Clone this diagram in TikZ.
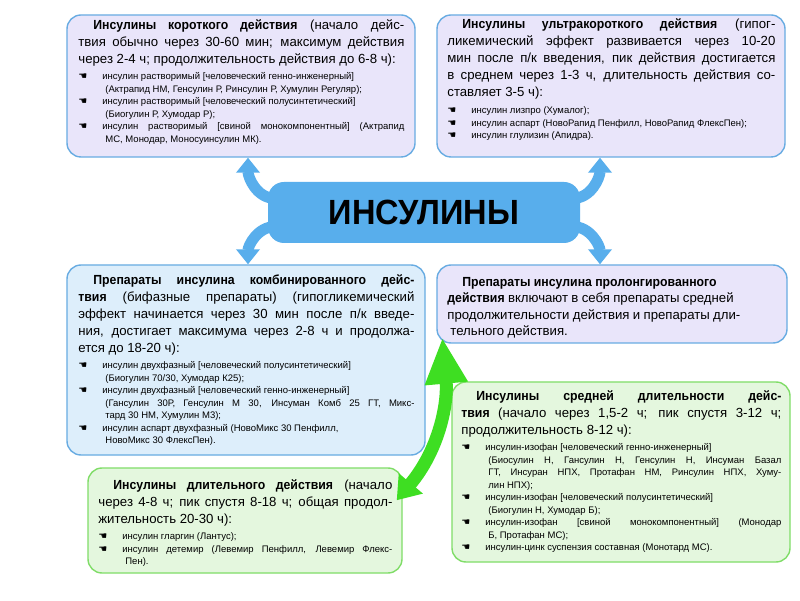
\documentclass[tikz,border=0pt]{standalone}
\usepackage{fontspec}
\setmainfont{Liberation Sans}[BoldFeatures={FakeStretch=0.93}]
\newfontfamily\symfont{DejaVu Sans}
\usetikzlibrary{arrows.meta}

\definecolor{lilac}{RGB}{233,229,250}
\definecolor{skyfill}{RGB}{221,238,251}
\definecolor{mint}{RGB}{228,247,222}
\definecolor{skyline}{RGB}{104,172,226}
\definecolor{mintline}{RGB}{128,221,104}
\definecolor{bigblue}{RGB}{88,174,236}
\definecolor{biggreen}{RGB}{62,222,34}

\tolerance=9999
\hbadness=10000
\newcommand{\hd}{\fontsize{13.2}{17}\selectfont}
\newcommand{\sm}{\fontsize{9.5}{12.5}\selectfont}
\newcommand{\ind}{\noindent\hspace*{15pt}}
\newcommand{\itm}[1]{\par\hangindent=27pt\hangafter=1\noindent\makebox[24pt][l]{\symfont\fontsize{10}{10}\selectfont ☚}#1}

\begin{document}
\begin{tikzpicture}[style=thick,x=1pt,y=1pt]
\newcommand{\bline}{1.4pt}
\tikzstyle{panel}=[draw=skyline,line width=\bline,rounded corners=14pt,inner sep=0pt]
\tikzstyle{txt}=[anchor=north west,inner sep=0pt,align=justify]
\tikzstyle{bluearr}=[draw=bigblue,line width=11pt,-{Triangle[width=23pt,length=15pt]}]
\tikzstyle{greenarr}=[draw=biggreen,line width=13pt,{Triangle[width=30pt,length=22pt]}-{Triangle[width=40pt,length=46pt]}]
\useasboundingbox (0,0) rectangle (800,600);
\fill[white] (0,0) rectangle (800,600);

% boxes
\node[panel,fill=lilac,minimum width=348pt,minimum height=142pt] (short) at (241,514) {};
\node[panel,fill=lilac,minimum width=348pt,minimum height=142pt] (ultra) at (611,514) {};
\node[panel,fill=skyfill,minimum width=358pt,minimum height=190pt] (comb) at (246,240) {};
\node[panel,fill=lilac,minimum width=350pt,minimum height=78pt] (prol) at (612,296) {};
\node[panel,fill=mint,draw=mintline,minimum width=338pt,minimum height=180pt] (mid) at (621,128) {};
\node[panel,fill=mint,draw=mintline,minimum width=314pt,minimum height=105pt] (long) at (245,79.5) {};
\node[fill=bigblue,rounded corners=16pt,minimum width=312pt,minimum height=61pt,
  font=\fontsize{35}{35}\selectfont\bfseries] (ins) at (424,387.5) {ИНСУЛИНЫ};

% texts
\node[txt,text width=326pt] (short_txt) at (78,581) {\hd\ind\textbf{Инсулины короткого действия} (начало дейс-\linebreak
твия обычно через 30-60 мин; максимум действия\linebreak
через 2-4 ч; продолжительность действия до 6-8 ч):\par\vspace{4pt}\sm
\itm{инсулин растворимый [человеческий генно-инженерный]\newline (Актрапид НМ, Генсулин Р, Ринсулин Р, Хумулин Регуляр);}
\itm{инсулин растворимый [человеческий полусинтетический]\newline (Биогулин Р, Хумодар Р);}
\itm{инсулин растворимый [свиной монокомпонентный] (Актрапид\linebreak МС, Монодар, Моносуинсулин МК).}\par};

\node[txt,text width=328pt] (ultra_txt) at (447,582) {\hd\ind\textbf{Инсулины ультракороткого действия} (гипог-\linebreak
ликемический эффект развивается через 10-20\linebreak
мин после п/к введения, пик действия достигается\linebreak
в среднем через 1-3 ч, длительность действия со-\linebreak
ставляет 3-5 ч):\par\vspace{5pt}\sm
\itm{инсулин лизпро (Хумалог);}
\itm{инсулин аспарт (НовоРапид Пенфилл, НовоРапид ФлексПен);}
\itm{инсулин глулизин (Апидра).}\par};

\node[txt,text width=336pt] (comb_txt) at (78,326) {\hd\ind\textbf{Препараты инсулина комбинированного дейс-}\linebreak
\textbf{твия} (бифазные препараты) (гипогликемический\linebreak
эффект начинается через 30 мин после п/к введе-\linebreak
ния, достигает максимума через 2-8 ч и продолжа-\linebreak
ется до 18-20 ч):\par\vspace{4pt}\sm
\itm{инсулин двухфазный [человеческий полусинтетический]\newline (Биогулин 70/30, Хумодар К25);}
\itm{инсулин двухфазный [человеческий генно-инженерный]\newline (Гансулин 30Р, Генсулин М 30, Инсуман Комб 25 ГТ, Микс-\linebreak тард 30 НМ, Хумулин М3);}
\itm{инсулин аспарт двухфазный (НовоМикс 30 Пенфилл,\newline НовоМикс 30 ФлексПен).}\par};

\node[txt,text width=330pt,align=left] (prol_txt) at (447,323) {\fontsize{13.2}{16.5}\selectfont\ind\textbf{Препараты инсулина пролонгированного}\newline
\textbf{действия} включают в себя препараты средней\newline
продолжительности действия и препараты дли-\newline
\hspace*{3pt}тельного действия.\par};

\node[txt,text width=320pt] (mid_txt) at (461,210) {\hd\ind\textbf{Инсулины средней длительности дейс-}\linebreak
\textbf{твия} (начало через 1,5-2 ч; пик спустя 3-12 ч;\linebreak
продолжительность 8-12 ч):\par\vspace{4pt}\sm
\itm{инсулин-изофан [человеческий генно-инженерный]\newline (Биосулин Н, Гансулин Н, Генсулин Н, Инсуман Базал\linebreak ГТ, Инсуран НПХ, Протафан НМ, Ринсулин НПХ, Хуму-\linebreak лин НПХ);}
\itm{инсулин-изофан [человеческий полусинтетический]\newline (Биогулин Н, Хумодар Б);}
\itm{инсулин-изофан [свиной монокомпонентный] (Монодар\linebreak Б, Протафан МС);}
\itm{инсулин-цинк суспензия составная (Монотард МС).}\par};

\node[txt,text width=294pt] (long_txt) at (98,121) {\hd\ind\textbf{Инсулины длительного действия} (начало\linebreak
через 4-8 ч; пик спустя 8-18 ч; общая продол-\linebreak
жительность 20-30 ч):\par\vspace{4pt}\sm
\itm{инсулин гларгин (Лантус);}
\itm{инсулин детемир (Левемир Пенфилл, Левемир Флекс-\linebreak Пен).}\par};

% arrows
\draw[bluearr] ([xshift=8,yshift=14]ins.west) to[out=180,in=-90] ([xshift=7]short.south);
\draw[bluearr] ([xshift=-8,yshift=14]ins.east) to[out=0,in=-90] ([xshift=-11]ultra.south);
\draw[bluearr] ([xshift=8,yshift=-14]ins.west) to[out=180,in=90] ([xshift=2]comb.north);
\draw[bluearr] ([xshift=-8,yshift=-14]ins.east) to[out=0,in=90] ([xshift=-12]prol.north);
\draw[greenarr] ([xshift=-6,yshift=-33]long.north east) to[out=50,in=-85] ([xshift=6,yshift=6]prol.south west);
\end{tikzpicture}
\end{document}
